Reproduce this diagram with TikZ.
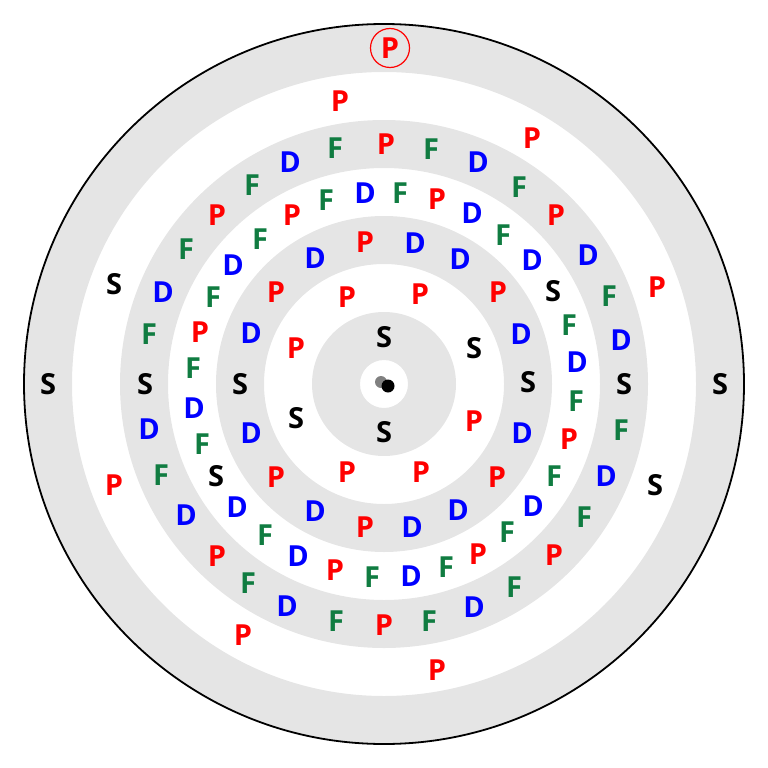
\documentclass[tikz,border=0pt]{standalone}
\usepackage{fontspec}
\setsansfont{Open Sans}
\definecolor{ringgray}{RGB}{229,229,229}
\definecolor{orbgreen}{RGB}{16,124,65}
\tikzset{
  orb/.style={font=\sffamily\bfseries\fontsize{29}{29}\selectfont, inner sep=0pt},
  orbS/.style={orb, text=black},
  orbP/.style={orb, text=red},
  orbD/.style={orb, text=blue},
  orbF/.style={orb, text=orbgreen},
}
\begin{document}
\begin{tikzpicture}[x=1pt,y=-1pt]
  \useasboundingbox (0,0) rectangle (768,768);
  \coordinate (c) at (384,384);

  % shells
  \foreach \r in {360,264,168,72}{
    \fill[ringgray, even odd rule] (c) circle [radius=\r] circle [radius=\r-48];
  }
  \draw[line width=1.8pt] (c) circle [radius=360];

  % nucleus
  \fill[gray] (381,382) circle [radius=6];
  \fill[black] (388,386) circle [radius=6.5];

  \foreach \x/\y [count=\i] in {384/337,384/432,474/348,296/418,528/382,240/384,553/291,
      216/476,624/384,145/384,114/284,655/485,720/384,48/384}{
    \node[orbS] (s\i) at (\x,\y) {S};
  }

  \foreach \x/\y [count=\i] in {340/101,386/144,532/138,437/199,217/215,292/215,556/215,
      365/242,657/287,276/292,347/297,420/294,498/292,200/332,296/348,474/421,569/439,
      114/485,276/477,347/472,421/472,497/477,365/527,217/556,335/570,478/554,554/555,
      243/635,384/625,437/670}{
    \node[orbP] (p\i) at (\x,\y) {P};
  }

  \foreach \x/\y [count=\i] in {290/162,478/162,365/193,472/213,233/265,315/258,415/243,
      460/259,532/260,588/255,163/292,251/333,521/334,621/340,577/362,194/408,149/429,
      251/433,522/433,606/476,186/515,237/507,315/511,458/510,533/506,412/527,298/556,
      411/576,287/606,474/607}{
    \node[orbD] (d\i) at (\x,\y) {D};
  }

  \foreach \x/\y [count=\i] in {335/148,431/149,252/185,519/187,326/200,400/193,260/239,
      186/249,503/235,213/297,609/296,149/334,569/325,193/368,576/401,202/444,621/430,
      161/475,554/476,265/535,507/532,584/517,248/583,372/577,446/567,514/587,336/621,
      429/621}{
    \node[orbF] (f\i) at (\x,\y) {F};
  }

  % marked electron
  \node[orbP, draw=red, circle, line width=1.2pt, minimum size=39pt] (p0) at (390,48) {P};
\end{tikzpicture}
\end{document}
